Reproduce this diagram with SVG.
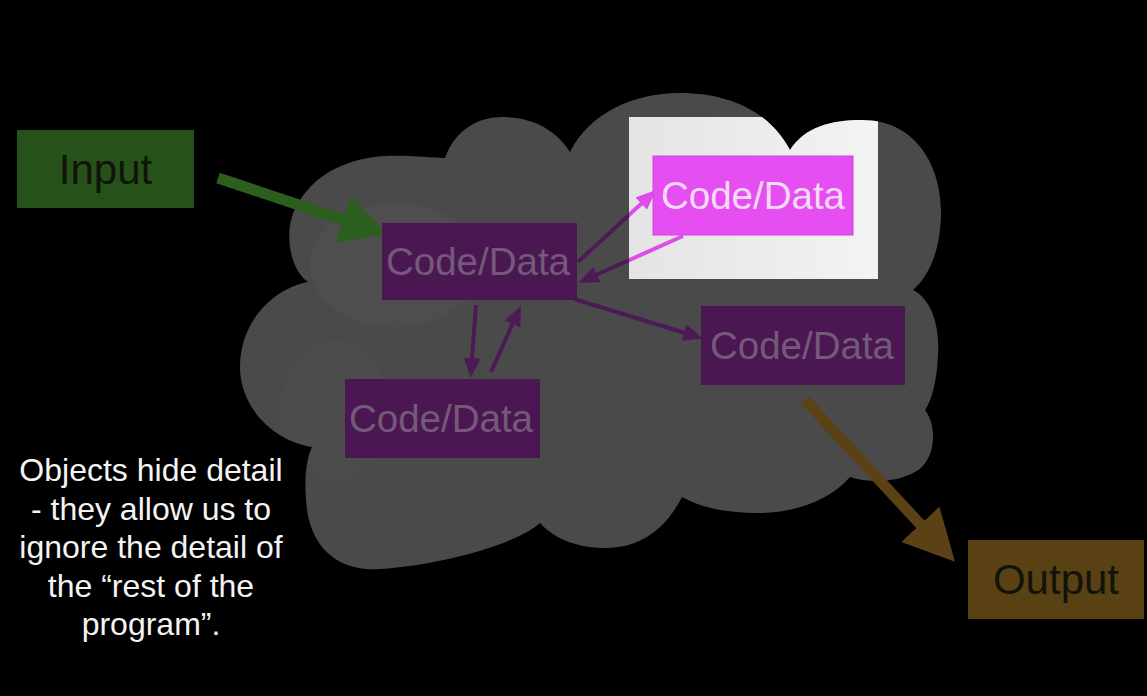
<svg xmlns="http://www.w3.org/2000/svg" xmlns:xlink="http://www.w3.org/1999/xlink" width="1147" height="696" viewBox="0 0 1147 696">
  <defs>
    <style>
      .lbl { font-family: "Liberation Sans", Arial, sans-serif; text-anchor: middle; }
      .cd { font-size: 38.5px; }
      .io { font-size: 42px; fill: #111409; }
      .dark-box { fill: #4b1752; }
      .dark-txt { fill: #735a78; }
      .pline { fill: none; stroke-width: 4; stroke-linecap: butt; }
      .dark-line { stroke: #4d1957; }
      .big { fill: none; stroke-width: 11; stroke-linecap: butt; }
      .caption { font-family: "Liberation Sans", Arial, sans-serif; font-size: 32px; fill: #f4f4f4; text-anchor: middle; }
    </style>
    <path id="cloudShape" d="M308,282
      C288,268 282,225 300,200
      C318,172 350,158 385,156
      C410,155 430,158 445,158
      C455,130 478,117 502,117
      C530,117 555,128 570,152
      C590,112 635,93 680,93
      C730,93 770,112 790,150
      C805,127 830,120 862,120
      C915,120 942,165 941,215
      C940,250 930,275 913,290
      C933,300 940,330 938,355
      C937,380 932,400 925,410
      C937,425 937,460 915,472
      C895,483 868,483 850,477
      C830,500 795,513 760,513
      C725,513 700,507 682,497
      C665,530 640,548 605,548
      C580,548 555,540 540,523
      C515,545 440,565 380,569
      C335,572 312,545 307,510
      C304,485 305,462 312,447
      C270,440 240,405 240,367
      C240,320 275,288 308,282 Z"/>
    <clipPath id="cloudClip">
      <use xlink:href="#cloudShape"/>
    </clipPath>
    <linearGradient id="spotFill" x1="0" y1="0" x2="1" y2="0">
      <stop offset="0" stop-color="#e4e4e4"/>
      <stop offset="1" stop-color="#f3f3f3"/>
    </linearGradient>
    <linearGradient id="spotStroke" gradientUnits="userSpaceOnUse" x1="620" y1="0" x2="640" y2="0">
      <stop offset="0.45" stop-color="#4d1957"/>
      <stop offset="0.45" stop-color="#de4de8"/>
    </linearGradient>
    <marker id="headDark" markerUnits="userSpaceOnUse" markerWidth="20" markerHeight="17" refX="1" refY="8.5" orient="auto">
      <path d="M0,0 L20,8.5 L0,17 Z" fill="#4d1957"/>
    </marker>
    <marker id="headPink" markerUnits="userSpaceOnUse" markerWidth="20" markerHeight="17" refX="1" refY="8.5" orient="auto">
      <path d="M0,0 L20,8.5 L0,17 Z" fill="#de4de8"/>
    </marker>
    <marker id="headGreen" markerUnits="userSpaceOnUse" markerWidth="47" markerHeight="48" refX="1" refY="24" orient="auto">
      <path d="M0,0 L47,24 L0,48 Z" fill="#2c5f1e"/>
    </marker>
    <marker id="headBrown" markerUnits="userSpaceOnUse" markerWidth="51" markerHeight="52" refX="1" refY="26" orient="auto">
      <path d="M0,0 L51,26 L0,52 Z" fill="#5b4216"/>
    </marker>
  </defs>

  <rect x="0" y="0" width="1147" height="696" fill="#000"/>

  <g id="cloud">
    <use xlink:href="#cloudShape" fill="#4a4a4a"/>
    <g clip-path="url(#cloudClip)">
      <ellipse cx="395" cy="265" rx="85" ry="62" fill="#fff" fill-opacity="0.022"/>
      <ellipse cx="335" cy="410" rx="55" ry="70" fill="#fff" fill-opacity="0.01"/>
      <rect id="spotlight" x="629" y="117" width="249" height="162" fill="url(#spotFill)"/>
    </g>
  </g>

  <g id="connectors">
    <line class="big" x1="218" y1="178" x2="344" y2="220" stroke="#2c5f1e" marker-end="url(#headGreen)"/>
    <line class="pline" x1="578" y1="262" x2="642" y2="203" stroke="url(#spotStroke)" marker-end="url(#headPink)"/>
    <line class="pline" x1="683" y1="236" x2="596" y2="275" stroke="url(#spotStroke)" marker-end="url(#headDark)"/>
    <line class="pline dark-line" x1="574" y1="299" x2="685" y2="333" marker-end="url(#headDark)"/>
    <line class="pline dark-line" x1="476" y1="305" x2="472" y2="359" marker-end="url(#headDark)"/>
    <line class="pline dark-line" x1="491" y1="372" x2="513" y2="323" marker-end="url(#headDark)"/>
    <line class="big" x1="805" y1="400" x2="921" y2="525" stroke="#5b4216" marker-end="url(#headBrown)"/>
  </g>

  <g id="node-input">
    <rect x="17" y="130" width="177" height="78" fill="#26521a"/>
    <text class="lbl io" x="105.5" y="184">Input</text>
  </g>

  <g id="node-code-main">
    <rect class="dark-box" x="382" y="223" width="195" height="77"/>
    <text class="lbl cd dark-txt" x="478" y="275">Code/Data</text>
  </g>

  <g id="node-code-highlight">
    <rect x="653" y="156" width="200" height="79" fill="#e54ff1" stroke="#cf42dc" stroke-width="1"/>
    <text class="lbl cd" x="753" y="209" fill="#f6d9f6">Code/Data</text>
  </g>

  <g id="node-code-right">
    <rect class="dark-box" x="701" y="306" width="204" height="79"/>
    <text class="lbl cd dark-txt" x="802" y="359">Code/Data</text>
  </g>

  <g id="node-code-left">
    <rect class="dark-box" x="345" y="379" width="195" height="79"/>
    <text class="lbl cd dark-txt" x="441" y="432">Code/Data</text>
  </g>

  <g id="node-output">
    <rect x="968" y="540" width="176" height="79" fill="#5a4113"/>
    <text class="lbl io" x="1056" y="594" fill="#150f05">Output</text>
  </g>

  <g id="caption">
    <text class="caption" x="151" y="481">Objects hide detail</text>
    <text class="caption" x="151" y="519.5">- they allow us to</text>
    <text class="caption" x="151" y="558">ignore the detail of</text>
    <text class="caption" x="151" y="596.5">the “rest of the</text>
    <text class="caption" x="151" y="635">program”.</text>
  </g>
</svg>
